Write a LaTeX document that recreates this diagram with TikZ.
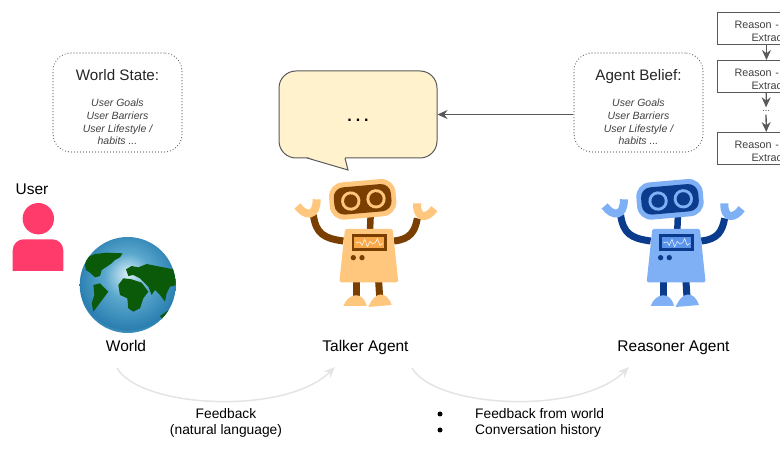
\documentclass[tikz,border=0pt]{standalone}
\usepackage{fontspec}
\setmainfont{Liberation Sans}
\usetikzlibrary{arrows.meta}

\definecolor{bubblefill}{HTML}{FFF2CC}
\definecolor{edgegray}{HTML}{595959}
\definecolor{curvegray}{HTML}{E4E4E4}
\definecolor{userpink}{HTML}{FF3B6B}
\definecolor{landgreen}{HTML}{0A5A0A}
\definecolor{talkerlight}{HTML}{FFC67E}
\definecolor{talkerdark}{HTML}{7A3F00}
\definecolor{talkermid}{HTML}{F8A94A}
\definecolor{reasonerlight}{HTML}{7FB0F5}
\definecolor{reasonerdark}{HTML}{0B3B8C}
\definecolor{reasonermid}{HTML}{5C94EC}
\definecolor{globepale}{HTML}{D6EEF5}
\definecolor{globemid}{HTML}{5BA8CE}
\definecolor{globedeep}{HTML}{2A7FB0}
\definecolor{globerim}{HTML}{8CC3DC}

\pgfdeclareradialshading{globeshade}{\pgfpoint{0bp}{6bp}}{
  color(0bp)=(globepale);
  color(12bp)=(globemid);
  color(26bp)=(globedeep);
  color(31bp)=(globerim);
  color(50bp)=(globerim)}

\tikzset{
  label14/.style={font=\fontsize{15.5}{18}\selectfont, inner sep=0pt},
  label12/.style={font=\fontsize{13.8}{16}\selectfont, inner sep=0pt, align=center},
  statebox/.style={draw=edgegray, line width=1.2pt, line cap=round, dash pattern=on 0pt off 3pt,
    rounded corners=18pt, minimum width=129pt, minimum height=99pt, align=center, inner sep=0pt,
    font=\fontsize{10.5}{12.6}\selectfont\itshape, text=black!75},
  reasonbox/.style={draw=edgegray, line width=1pt, anchor=north west, align=left,
    text width=64pt, inner xsep=17pt, inner ysep=0pt, minimum height=32pt,
    font=\fontsize{10.8}{13}\selectfont, text=black!75},
  grayarrow/.style={draw=edgegray, line width=1.3pt, -{Stealth[length=10pt,width=9pt]}},
  curvearrow/.style={draw=curvegray, line width=1.5pt, -{Stealth[length=11pt,width=9pt]}},
  pics/robot/.style n args={3}{code={
    % arms
    \draw[#2, line width=7pt] (190,213) .. controls (130,205) and (108,190) .. (100,135);
    \draw[#2, line width=7pt] (342,213) .. controls (390,208) and (405,185) .. (412,145);
    % hands
    \draw[#1, line width=8pt] (52,108) .. controls (78,142) and (110,140) .. (110,88);
    \draw[#1, line width=8pt] (411,100) .. controls (410,150) and (442,146) .. (463,116);
    % neck and legs
    \draw[#2, line width=6.5pt] (272,135) -- (270,180);
    \draw[#2, line width=7pt] (229,335) -- (229,380);
    \draw[#2, line width=7pt] (296,335) -- (299,380);
    % feet
    \fill[#1] (190,408) .. controls (205,368) and (250,362) .. (260,408) -- cycle;
    \fill[#1] (265,411) .. controls (285,362) and (320,362) .. (335,405) -- cycle;
    % body
    \fill[#1, rounded corners=1.5pt] (195,177) -- (338,177) -- (355,337) -- (178,337) -- cycle;
    \fill[#2] (215,192) rectangle (320,243);
    \fill[#3] (223,200) rectangle (312,235);
    \draw[white!80!#1, line width=0.6pt] (228,218) -- (240,216) -- (246,226) -- (254,208)
      -- (262,230) -- (270,214) -- (278,222) -- (286,218) -- (292,206) -- (300,226) -- (308,220);
    \fill[#2] (220,263) circle (8) (246,263) circle (8);
    % head
    \begin{scope}[shift={(248,88)}, rotate=5]
      \fill[#1, rounded corners=14pt] (-100,-56) rectangle (100,56);
      \fill[#2, rounded corners=10pt] (-86,-41) rectangle (86,41);
      \fill[#1] (-36,2) circle (29);
      \fill[#2] (-36,2) circle (20);
      \fill[#1] (40,2) circle (29);
      \fill[#2] (40,2) circle (20);
    \end{scope}
  }}
}

\begin{document}
\begin{tikzpicture}[x=1pt, y=-1pt]
  \clip (0,0) rectangle (780,470);

  % state boxes
  \node[statebox] (worldstate) at (117.5,102.5) {{\fontsize{15.2}{18}\selectfont\upshape\color{black!85}\rule{0pt}{20pt}World State:}\\[14pt]
    User Goals\\User Barriers\\User Lifestyle /\\habits ...};
  \node[statebox] (agentbelief) at (638.5,102.5) {{\fontsize{15.2}{18}\selectfont\upshape\color{black!85}\rule{0pt}{20pt}Agent Belief:}\\[14pt]
    User Goals\\User Barriers\\User Lifestyle /\\habits ...};

  % speech bubble
  \node[draw=edgegray, fill=bubblefill, line width=1pt, rounded corners=17pt,
    minimum width=158pt, minimum height=87pt, inner sep=0pt] (bubble) at (358,114.5) {};
  \fill[bubblefill] (307,157) -- (348,170) -- (345,157) -- cycle;
  \draw[edgegray, line width=1pt] (307,158) -- (348,170) -- (345,158);
  \node[font=\fontsize{16}{16}\selectfont\bfseries, inner sep=0pt] (bubbledots) at (358,120) {.\hspace{4pt}.\hspace{4pt}.};
  \draw[grayarrow] (agentbelief.west |- bubble.east) -- (bubble.east);

  % reasoning steps
  \node[reasonbox] (reasonA) at (717,12) {\rule{0pt}{14pt}Reason - \\ \hspace*{17pt}Extrac};
  \node[reasonbox] (reasonB) at (717,60) {\rule{0pt}{14pt}Reason - \\ \hspace*{17pt}Extrac};
  \node[reasonbox] (reasonC) at (717,132) {\rule{0pt}{14pt}Reason - \\ \hspace*{17pt}Extrac};
  \node[font=\fontsize{9}{9}\selectfont, inner ysep=3pt, inner xsep=0pt, text=black!75] (reasondots) at (766,111) {...};
  \draw[grayarrow] (reasonA) -- (reasonB);
  \draw[grayarrow] (reasonB) -- (reasondots);
  \draw[grayarrow] (reasondots) -- (reasonC);

  % user
  \node[label14] (userlabel) at (32,189) {User};
  \fill[userpink] (38.3,218.7) circle (15.7);
  \fill[userpink] (12.7,271) [rounded corners=11pt] -- (12.7,239.3) -- (63.3,239.3) [sharp corners] -- (63.3,271) -- cycle;

  % globe
  \begin{scope}
    \clip (127.7,285) circle (48);
    \shade[shading=globeshade] (79.7,237) rectangle (175.7,333);
    \begin{scope}[shift={(0,170)}, scale=1/3]
      \fill[landgreen] (255,285) -- (262,262) -- (285,252) -- (320,248) -- (368,250) -- (360,262) -- (345,270) -- (335,280)
        -- (320,290) -- (305,300) -- (300,318) -- (285,322) -- (270,308) -- (258,300) -- cycle;
      \fill[landgreen] (280,345) -- (300,340) -- (325,365) -- (310,385) -- (295,405) -- (280,425) -- (275,400) -- (283,375) -- cycle;
      \fill[landgreen] (378,298) -- (395,288) -- (415,292) -- (440,282) -- (480,290) -- (530,300) -- (530,345) -- (510,350)
        -- (500,370) -- (495,395) -- (480,375) -- (465,360) -- (455,375) -- (445,350) -- (430,335) -- (420,325) -- (400,315) -- (385,318) -- cycle;
      \fill[landgreen] (355,345) -- (370,325) -- (395,328) -- (425,338) -- (445,365) -- (430,385) -- (420,415) -- (400,425)
        -- (385,415) -- (382,385) -- (360,375) -- cycle;
      \fill[landgreen] (480,438) -- (510,418) -- (515,445) -- (490,450) -- cycle;
    \end{scope}
  \end{scope}
  \node[label14] (worldlabel) at (126,346) {World};

  % agents
  \pic[scale=1/3] at (280,170) {robot={talkerlight}{talkerdark}{talkermid}};
  \pic[scale=1/3] at (587.3,170) {robot={reasonerlight}{reasonerdark}{reasonermid}};
  \node[label14] (talkerlabel) at (365.5,347.5) {Talker Agent};
  \node[label14] (reasonerlabel) at (673.5,347.5) {Reasoner Agent};

  % feedback curves
  \coordinate (feedbackstart) at (117,368);
  \coordinate (feedbackend) at (335,367);
  \coordinate (historystart) at (412,368);
  \coordinate (historyend) at (629,367);
  \draw[curvearrow] (feedbackstart) .. controls (140,408) and (285,416) .. (feedbackend);
  \draw[curvearrow] (historystart) .. controls (435,408) and (579,416) .. (historyend);

  % captions
  \node[label12] (feedbacklabel) at (226,422.5) {Feedback\\(natural language)};
  \node[circle, fill=black, inner sep=0pt, minimum size=5pt] (bulletA) at (440,414) {};
  \node[circle, fill=black, inner sep=0pt, minimum size=5pt] (bulletB) at (440,430) {};
  \node[label12, anchor=west] (historyA) at (475,414) {Feedback from world};
  \node[label12, anchor=west] (historyB) at (475,431) {Conversation history};
\end{tikzpicture}
\end{document}
